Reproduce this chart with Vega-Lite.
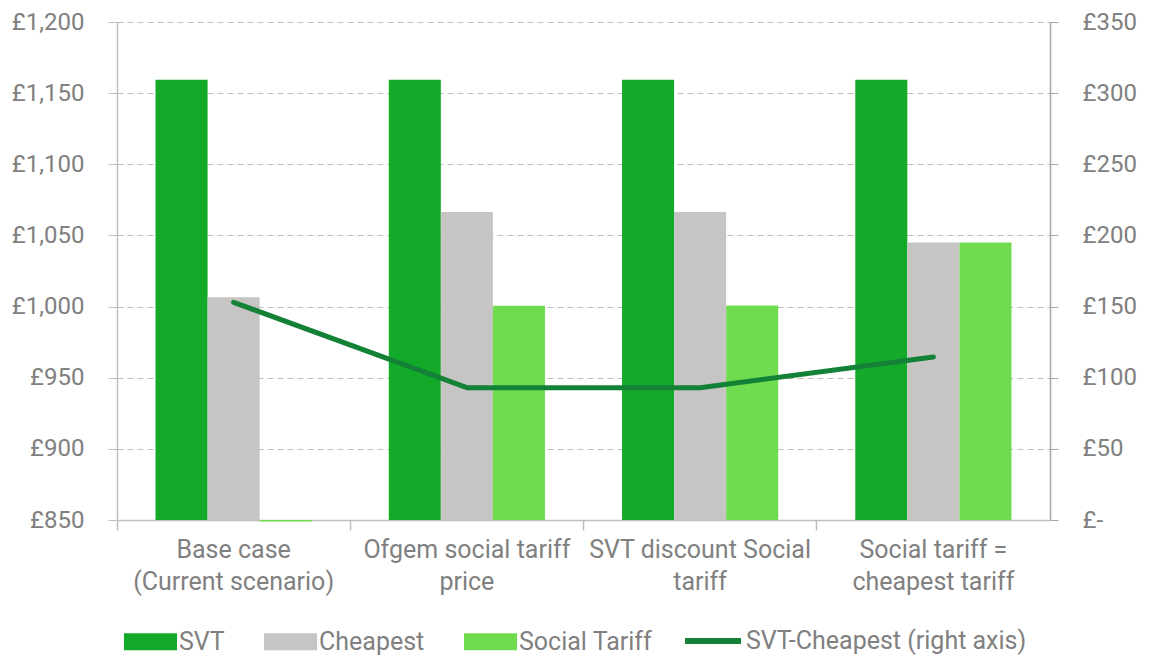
{
  "$schema": "https://vega.github.io/schema/vega-lite/v6.json",
  "width": 933,
  "height": 498,
  "autosize": "none",
  "padding": {"left": 117, "top": 22, "right": 101, "bottom": 136},
  "background": "white",
  "config": {
    "view": {"stroke": null},
    "font": "Roboto",
    "axis": {"labelFont": "Roboto", "labelColor": "#808080", "labelFontSize": 24}
  },
  "datasets": {
    "bars": [
      {"scenario": "Base case|(Current scenario)", "series": "SVT", "value": 1159.5},
      {"scenario": "Base case|(Current scenario)", "series": "Cheapest", "value": 1006.5},
      {"scenario": "Base case|(Current scenario)", "series": "Social Tariff", "value": 849},
      {"scenario": "Ofgem social tariff|price", "series": "SVT", "value": 1159.5},
      {"scenario": "Ofgem social tariff|price", "series": "Cheapest", "value": 1066.5},
      {"scenario": "Ofgem social tariff|price", "series": "Social Tariff", "value": 1000.5},
      {"scenario": "SVT discount Social|tariff", "series": "SVT", "value": 1159.5},
      {"scenario": "SVT discount Social|tariff", "series": "Cheapest", "value": 1066.5},
      {"scenario": "SVT discount Social|tariff", "series": "Social Tariff", "value": 1000.8},
      {"scenario": "Social tariff =|cheapest tariff", "series": "SVT", "value": 1159.5},
      {"scenario": "Social tariff =|cheapest tariff", "series": "Cheapest", "value": 1045},
      {"scenario": "Social tariff =|cheapest tariff", "series": "Social Tariff", "value": 1045}
    ],
    "diff": [
      {"scenario": "Base case|(Current scenario)", "diff": 153},
      {"scenario": "Ofgem social tariff|price", "diff": 93},
      {"scenario": "SVT discount Social|tariff", "diff": 93},
      {"scenario": "Social tariff =|cheapest tariff", "diff": 114.5}
    ]
  },
  "layer": [
    {
      "data": {"name": "bars"},
      "mark": {"type": "bar", "clip": false},
      "encoding": {
        "x": {
          "field": "scenario",
          "type": "nominal",
          "sort": null,
          "scale": {"paddingInner": 0, "paddingOuter": 0},
          "axis": {
            "title": null,
            "labelAngle": 0,
            "bandPosition": 0,
            "labelFontSize": 25,
            "labelExpr": "split(datum.label, '|')",
            "labelLimit": 400,
            "labelLineHeight": 32,
            "labelPadding": 7,
            "tickSize": 10,
            "tickColor": "#BFBFBF",
            "domainColor": "#BFBFBF",
            "domainWidth": 1.5,
            "tickWidth": 1.5
          }
        },
        "xOffset": {
          "field": "series",
          "type": "nominal",
          "sort": ["SVT", "Cheapest", "Social Tariff"],
          "scale": {"paddingInner": 0, "paddingOuter": 0.74}
        },
        "y": {
          "field": "value",
          "type": "quantitative",
          "scale": {"domain": [850, 1200], "nice": false, "zero": false},
          "axis": {
            "title": null,
            "values": [850, 900, 950, 1000, 1050, 1100, 1150, 1200],
            "labelExpr": "'£' + format(datum.value, ',')",
            "tickSize": 9,
            "labelPadding": 24,
            "tickColor": "#BFBFBF",
            "domainColor": "#BFBFBF",
            "domainWidth": 1.5,
            "grid": true,
            "gridColor": "#BFBFBF",
            "gridDash": [6, 4],
            "gridWidth": 1
          }
        },
        "y2": {"datum": 850},
        "color": {
          "field": "series",
          "type": "nominal",
          "sort": ["SVT", "Cheapest", "Social Tariff"],
          "scale": {"domain": ["SVT", "Cheapest", "Social Tariff"], "range": ["#12AA28", "#C6C5C3", "#6FDC50"]},
          "legend": {
            "title": null,
            "orient": "none",
            "direction": "horizontal",
            "legendX": 7,
            "legendY": 593,
            "symbolType": "M-1,-0.32H1V0.32H-1Z",
            "symbolSize": 2809,
            "symbolStrokeWidth": 0,
            "labelFont": "Roboto",
            "labelFontSize": 25,
            "labelColor": "#808080",
            "labelOffset": 2,
            "labelLimit": 300,
            "columnPadding": 39
          }
        }
      }
    },
    {
      "data": {"name": "diff"},
      "mark": {"type": "line", "strokeWidth": 5, "strokeCap": "round", "strokeJoin": "round"},
      "encoding": {
        "x": {"field": "scenario", "type": "nominal", "sort": null},
        "y": {
          "field": "diff",
          "type": "quantitative",
          "scale": {"domain": [0, 350], "nice": false},
          "axis": {
            "title": null,
            "orient": "right",
            "values": [0, 50, 100, 150, 200, 250, 300, 350],
            "labelExpr": "datum.value == 0 ? '£-' : '£' + format(datum.value, ',')",
            "tickSize": 8,
            "labelPadding": 24,
            "tickColor": "#A6A6A6",
            "domainColor": "#A6A6A6",
            "domainWidth": 1.5,
            "grid": false
          }
        },
        "stroke": {
          "datum": "SVT-Cheapest (right axis)",
          "scale": {"range": ["#138236"]},
          "legend": {
            "title": null,
            "orient": "none",
            "legendX": 565,
            "legendY": 588,
            "symbolType": "stroke",
            "symbolSize": 3136,
            "symbolStrokeWidth": 6,
            "labelFont": "Roboto",
            "labelFontSize": 25,
            "labelColor": "#808080",
            "labelOffset": 2,
            "labelLimit": 400
          }
        }
      }
    }
  ],
  "resolve": {"scale": {"y": "independent", "color": "independent"}}
}
